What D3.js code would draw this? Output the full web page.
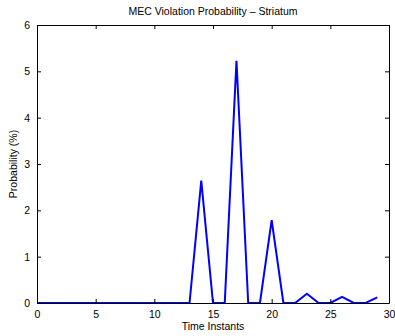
<!DOCTYPE html>
<html>
<head>
<meta charset="utf-8">
<script src="https://cdn.jsdelivr.net/npm/d3@7"></script>
<style>
  html, body { margin: 0; padding: 0; background: #fff; }
  svg { display: block; }
  text { font-family: "Liberation Sans", Arial, sans-serif; fill: #000; }
</style>
</head>
<body>
<div id="chart"></div>
<script>
// Time instants and violation probability (%) at each instant
const timeInstants = [0,1,2,3,4,5,6,7,8,9,10,11,12,13,14,15,16,17,18,19,20,21,22,23,24,25,26,27,28,29];
const probability  = [0,0,0,0,0,0,0,0,0,0,0,0,0,0,2.64,0,0,5.23,0,0,1.79,0,0,0.2,0,0,0.13,0,0,0.12];
const xTicks = [0,5,10,15,20,25,30];
const yTicks = [0,1,2,3,4,5,6];

const W = 395, H = 336;
const m = { left: 37, right: 6, top: 25, bottom: 33 };

const svg = d3.select("#chart").append("svg").attr("width", W).attr("height", H);

const x = d3.scaleLinear().domain([0, 30]).range([m.left, W - m.right]);
const y = d3.scaleLinear().domain([0, 6]).range([H - m.bottom, m.top]);

const tickLen = 4;
const fs = "10.5px";
const fmt = d3.format("d");

// data line
svg.append("path")
  .datum(timeInstants.map((t, i) => [t, probability[i]]))
  .attr("fill", "none")
  .attr("stroke", "#0000ff")
  .attr("stroke-width", 2)
  .attr("stroke-linejoin", "miter")
  .attr("d", d3.line().x(d => x(d[0])).y(d => y(d[1])));

// axes with inward ticks on all four sides
const axisB = svg.append("g").attr("transform", `translate(0,${y(0)})`)
  .call(d3.axisBottom(x).tickValues(xTicks).tickFormat(fmt).tickSizeInner(-tickLen).tickSizeOuter(0).tickPadding(8));
const axisT = svg.append("g").attr("transform", `translate(0,${y(6)})`)
  .call(d3.axisTop(x).tickValues(xTicks).tickSizeInner(-tickLen).tickSizeOuter(0).tickFormat(""));
const axisL = svg.append("g").attr("transform", `translate(${x(0)},0)`)
  .call(d3.axisLeft(y).tickValues(yTicks).tickFormat(fmt).tickSizeInner(-tickLen).tickSizeOuter(0).tickPadding(7));
const axisR = svg.append("g").attr("transform", `translate(${x(30)},0)`)
  .call(d3.axisRight(y).tickValues(yTicks).tickSizeInner(-tickLen).tickSizeOuter(0).tickFormat(""));

[axisB, axisT, axisL, axisR].forEach(g => {
  g.select(".domain").attr("stroke", "#000").attr("stroke-width", 1);
  g.selectAll(".tick line").attr("stroke", "#000");
  g.selectAll("text").attr("font-size", fs).attr("font-family", "Liberation Sans, Arial, sans-serif").attr("fill", "#000");
});

// title and axis labels
svg.append("text").attr("x", (x(0) + x(30)) / 2).attr("y", 15)
  .attr("text-anchor", "middle").attr("font-size", fs)
  .text("MEC Violation Probability \u2013 Striatum");
svg.append("text").attr("x", (x(0) + x(30)) / 2).attr("y", 330)
  .attr("text-anchor", "middle").attr("font-size", fs)
  .text("Time Instants");
svg.append("text")
  .attr("transform", `translate(17,${(y(0) + y(6)) / 2}) rotate(-90)`)
  .attr("text-anchor", "middle").attr("font-size", fs)
  .text("Probability (%)");
</script>
</body>
</html>
